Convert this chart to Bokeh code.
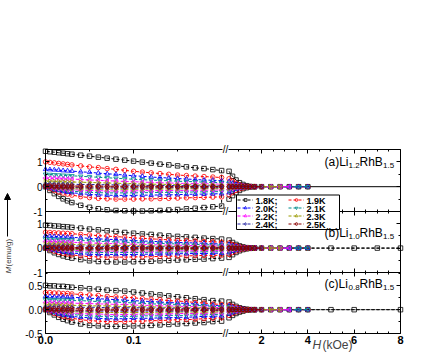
import math
from bokeh.plotting import figure
from bokeh.models import (Range1d, LinearAxis, FixedTicker, PrintfTickFormatter, BoxAnnotation,
                          CustomJSTickFormatter, Label, Legend, LegendItem, Arrow, NormalHead)
from bokeh.embed import file_html
from bokeh.resources import INLINE

# ---------------- data ----------------
TEMPS = ["1.8K", "1.9K", "2.0K", "2.1K", "2.2K", "2.3K", "2.4K", "2.5K"]
LEGEND_LABELS = ["1.8K;", "1.9K", "2.0K;", "2.1K", "2.2K;", "2.3K", "2.4K;", "2.5K"]

H_LEFT = [0.0, 0.005, 0.01, 0.015, 0.02, 0.025, 0.03, 0.04, 0.05, 0.06, 0.07, 0.08,
          0.09, 0.10, 0.11, 0.12, 0.13, 0.14, 0.15, 0.16, 0.17, 0.18, 0.19, 0.20]
H_RIGHT = [0.6, 0.75, 0.9, 1.05, 1.2, 1.35, 1.5, 1.7]
H_TAIL = [2.0, 2.4, 2.8, 3.2, 3.6, 4.0]
M_TAIL = [0.0, 0.0, 0.0, 0.0, 0.0, 0.0]
TAIL_POINTS = [6, 6, 6, 6, 4, 3, 1, 1]      # how many tail points each temperature has
H_EXT_A = [4.0, 8.0]
M_EXT_A = [0.0, 0.0]
H_EXT_B = [5.0, 6.0, 7.0, 8.0]
M_EXT_B = [0.0, 0.0, 0.0, 0.0]
H_EXT_C = [5.0, 6.0, 8.0]
M_EXT_C = [0.0, 0.0, 0.0]

# panel (a) Li1.2RhB1.5 : upper (field-decreasing) branch, low-field part
A_UP_18 = [1.43, 1.41, 1.39, 1.37, 1.35, 1.33, 1.31, 1.27, 1.23, 1.19, 1.15, 1.11, 1.07, 1.03, 0.99, 0.95, 0.91, 0.88, 0.84, 0.80, 0.76, 0.73, 0.69, 0.65]
A_UP_19 = [1.00, 0.98, 0.96, 0.94, 0.92, 0.90, 0.88, 0.84, 0.80, 0.77, 0.73, 0.70, 0.66, 0.62, 0.59, 0.56, 0.53, 0.50, 0.47, 0.45, 0.43, 0.41, 0.39, 0.37]
A_UP_20 = [0.70, 0.69, 0.68, 0.67, 0.65, 0.64, 0.63, 0.60, 0.58, 0.55, 0.52, 0.50, 0.47, 0.44, 0.42, 0.39, 0.37, 0.35, 0.33, 0.31, 0.29, 0.27, 0.26, 0.24]
A_UP_21 = [0.50, 0.49, 0.48, 0.47, 0.46, 0.45, 0.44, 0.42, 0.40, 0.38, 0.36, 0.34, 0.32, 0.30, 0.28, 0.27, 0.25, 0.24, 0.22, 0.21, 0.20, 0.18, 0.17, 0.16]
A_UP_22 = [0.35, 0.34, 0.34, 0.33, 0.32, 0.31, 0.31, 0.29, 0.27, 0.26, 0.24, 0.23, 0.21, 0.20, 0.19, 0.17, 0.16, 0.15, 0.14, 0.13, 0.12, 0.12, 0.11, 0.10]
A_UP_23 = [0.22, 0.22, 0.21, 0.21, 0.20, 0.20, 0.19, 0.18, 0.17, 0.16, 0.15, 0.14, 0.13, 0.12, 0.11, 0.10, 0.10, 0.09, 0.08, 0.08, 0.07, 0.07, 0.06, 0.06]
A_UP_24 = [0.12, 0.12, 0.11, 0.11, 0.11, 0.10, 0.10, 0.09, 0.09, 0.08, 0.08, 0.07, 0.07, 0.06, 0.06, 0.05, 0.05, 0.05, 0.04, 0.04, 0.04, 0.03, 0.03, 0.03]
A_UP_25 = [0.04, 0.04, 0.04, 0.04, 0.03, 0.03, 0.03, 0.03, 0.03, 0.03, 0.02, 0.02, 0.02, 0.02, 0.02, 0.02, 0.02, 0.01, 0.01, 0.01, 0.01, 0.01, 0.01, 0.01]
# lower (field-increasing) branch
A_LO_18 = [0.00, -0.15, -0.28, -0.39, -0.49, -0.57, -0.64, -0.75, -0.83, -0.89, -0.93, -0.96, -0.97, -0.98, -0.98, -0.97, -0.96, -0.94, -0.92, -0.89, -0.87, -0.84, -0.81, -0.78]
A_LO_19 = [0.00, -0.08, -0.15, -0.21, -0.26, -0.30, -0.34, -0.40, -0.44, -0.47, -0.49, -0.50, -0.50, -0.50, -0.49, -0.49, -0.48, -0.47, -0.46, -0.45, -0.44, -0.43, -0.42, -0.41]
A_LO_20 = [0.00, -0.06, -0.11, -0.15, -0.19, -0.22, -0.24, -0.28, -0.31, -0.33, -0.34, -0.35, -0.35, -0.35, -0.34, -0.34, -0.33, -0.33, -0.32, -0.31, -0.30, -0.30, -0.29, -0.28]
A_LO_21 = [0.00, -0.04, -0.08, -0.11, -0.14, -0.16, -0.18, -0.21, -0.23, -0.24, -0.25, -0.25, -0.25, -0.25, -0.24, -0.24, -0.23, -0.23, -0.22, -0.22, -0.21, -0.21, -0.20, -0.20]
A_LO_22 = [0.00, -0.03, -0.06, -0.08, -0.10, -0.11, -0.12, -0.14, -0.15, -0.16, -0.17, -0.17, -0.17, -0.17, -0.16, -0.16, -0.16, -0.15, -0.15, -0.15, -0.14, -0.14, -0.14, -0.13]
A_LO_23 = [0.00, -0.02, -0.04, -0.05, -0.06, -0.07, -0.08, -0.09, -0.09, -0.10, -0.10, -0.10, -0.10, -0.10, -0.10, -0.09, -0.09, -0.09, -0.09, -0.08, -0.08, -0.08, -0.08, -0.08]
A_LO_24 = [0.00, -0.01, -0.02, -0.03, -0.03, -0.04, -0.04, -0.04, -0.05, -0.05, -0.05, -0.05, -0.05, -0.05, -0.05, -0.05, -0.04, -0.04, -0.04, -0.04, -0.04, -0.04, -0.04, -0.04]
A_LO_25 = [0.00, 0.00, -0.01, -0.01, -0.01, -0.01, -0.01, -0.01, -0.01, -0.01, -0.01, -0.01, -0.01, -0.01, -0.01, -0.01, -0.01, -0.01, -0.01, -0.01, -0.01, -0.01, -0.01, -0.01]
# high-field part (H_RIGHT)
A_UPR_18 = [0.62, 0.42, 0.27, 0.16, 0.09, 0.04, 0.01, 0.0]
A_UPR_19 = [0.32, 0.22, 0.14, 0.08, 0.04, 0.02, 0.01, 0.0]
A_UPR_20 = [0.21, 0.14, 0.09, 0.05, 0.03, 0.01, 0.0, 0.0]
A_UPR_21 = [0.14, 0.09, 0.06, 0.03, 0.02, 0.01, 0.0, 0.0]
A_UPR_22 = [0.09, 0.06, 0.04, 0.02, 0.01, 0.0, 0.0, 0.0]
A_UPR_23 = [0.05, 0.03, 0.02, 0.01, 0.0, 0.0, 0.0, 0.0]
A_UPR_24 = [0.03, 0.02, 0.01, 0.0, 0.0, 0.0, 0.0, 0.0]
A_UPR_25 = [0.01, 0.0, 0.0, 0.0, 0.0, 0.0, 0.0, 0.0]
A_LOR_18 = [-0.50, -0.36, -0.24, -0.15, -0.08, -0.04, -0.01, 0.0]
A_LOR_19 = [-0.33, -0.23, -0.15, -0.09, -0.05, -0.02, -0.01, 0.0]
A_LOR_20 = [-0.24, -0.16, -0.10, -0.06, -0.03, -0.01, 0.0, 0.0]
A_LOR_21 = [-0.17, -0.11, -0.07, -0.04, -0.02, -0.01, 0.0, 0.0]
A_LOR_22 = [-0.11, -0.07, -0.05, -0.03, -0.01, 0.0, 0.0, 0.0]
A_LOR_23 = [-0.07, -0.04, -0.03, -0.01, 0.0, 0.0, 0.0, 0.0]
A_LOR_24 = [-0.03, -0.02, -0.01, 0.0, 0.0, 0.0, 0.0, 0.0]
A_LOR_25 = [-0.01, 0.0, 0.0, 0.0, 0.0, 0.0, 0.0, 0.0]

# panel (b) Li1.0RhB1.5
B_UP_18 = [0.94, 0.93, 0.91, 0.90, 0.88, 0.87, 0.85, 0.82, 0.78, 0.75, 0.71, 0.68, 0.64, 0.61, 0.58, 0.56, 0.53, 0.50, 0.48, 0.46, 0.44, 0.41, 0.39, 0.37]
B_UP_19 = [0.65, 0.64, 0.63, 0.62, 0.61, 0.60, 0.59, 0.56, 0.54, 0.51, 0.49, 0.47, 0.45, 0.42, 0.40, 0.38, 0.36, 0.34, 0.32, 0.31, 0.29, 0.27, 0.26, 0.24]
B_UP_20 = [0.50, 0.49, 0.48, 0.47, 0.46, 0.45, 0.44, 0.42, 0.40, 0.38, 0.36, 0.35, 0.33, 0.31, 0.29, 0.28, 0.26, 0.25, 0.23, 0.22, 0.21, 0.20, 0.18, 0.17]
B_UP_21 = [0.37, 0.36, 0.36, 0.35, 0.34, 0.33, 0.33, 0.31, 0.30, 0.28, 0.27, 0.25, 0.24, 0.23, 0.21, 0.20, 0.19, 0.18, 0.17, 0.16, 0.15, 0.14, 0.13, 0.12]
B_UP_22 = [0.27, 0.27, 0.26, 0.26, 0.25, 0.24, 0.24, 0.22, 0.21, 0.20, 0.19, 0.18, 0.17, 0.16, 0.15, 0.14, 0.13, 0.12, 0.12, 0.11, 0.10, 0.10, 0.09, 0.08]
B_UP_23 = [0.17, 0.17, 0.16, 0.16, 0.16, 0.15, 0.15, 0.14, 0.13, 0.13, 0.12, 0.11, 0.11, 0.10, 0.09, 0.09, 0.08, 0.08, 0.07, 0.07, 0.06, 0.06, 0.05, 0.05]
B_UP_24 = [0.10, 0.10, 0.10, 0.09, 0.09, 0.09, 0.09, 0.08, 0.08, 0.07, 0.07, 0.07, 0.06, 0.06, 0.06, 0.05, 0.05, 0.05, 0.04, 0.04, 0.04, 0.04, 0.03, 0.03]
B_UP_25 = [0.03, 0.03, 0.03, 0.03, 0.03, 0.03, 0.03, 0.02, 0.02, 0.02, 0.02, 0.02, 0.02, 0.02, 0.02, 0.02, 0.01, 0.01, 0.01, 0.01, 0.01, 0.01, 0.01, 0.01]
B_LO_18 = [0.00, -0.10, -0.19, -0.26, -0.32, -0.37, -0.41, -0.47, -0.52, -0.55, -0.56, -0.57, -0.57, -0.56, -0.55, -0.54, -0.52, -0.51, -0.49, -0.48, -0.46, -0.45, -0.43, -0.41]
B_LO_19 = [0.00, -0.07, -0.13, -0.18, -0.22, -0.25, -0.28, -0.32, -0.35, -0.36, -0.37, -0.37, -0.37, -0.36, -0.36, -0.35, -0.34, -0.33, -0.33, -0.32, -0.31, -0.30, -0.30, -0.29]
B_LO_20 = [0.00, -0.05, -0.09, -0.13, -0.16, -0.18, -0.20, -0.23, -0.25, -0.26, -0.26, -0.26, -0.26, -0.26, -0.25, -0.25, -0.24, -0.24, -0.23, -0.23, -0.22, -0.22, -0.21, -0.21]
B_LO_21 = [0.00, -0.04, -0.07, -0.09, -0.11, -0.13, -0.14, -0.16, -0.17, -0.18, -0.18, -0.18, -0.18, -0.18, -0.18, -0.17, -0.17, -0.17, -0.16, -0.16, -0.16, -0.15, -0.15, -0.15]
B_LO_22 = [0.00, -0.03, -0.05, -0.06, -0.08, -0.09, -0.09, -0.10, -0.11, -0.12, -0.12, -0.12, -0.12, -0.12, -0.12, -0.12, -0.11, -0.11, -0.11, -0.11, -0.11, -0.10, -0.10, -0.10]
B_LO_23 = [0.00, -0.02, -0.03, -0.04, -0.05, -0.05, -0.06, -0.06, -0.07, -0.07, -0.07, -0.07, -0.07, -0.07, -0.07, -0.07, -0.07, -0.07, -0.06, -0.06, -0.06, -0.06, -0.06, -0.06]
B_LO_24 = [0.00, -0.01, -0.02, -0.02, -0.03, -0.03, -0.03, -0.03, -0.04, -0.04, -0.04, -0.04, -0.04, -0.04, -0.04, -0.04, -0.04, -0.03, -0.03, -0.03, -0.03, -0.03, -0.03, -0.03]
B_LO_25 = [0.00, 0.00, -0.01, -0.01, -0.01, -0.01, -0.01, -0.01, -0.01, -0.01, -0.01, -0.01, -0.01, -0.01, -0.01, -0.01, -0.01, -0.01, -0.01, -0.01, -0.01, -0.01, -0.01, -0.01]
B_UPR_18 = [0.33, 0.23, 0.15, 0.09, 0.05, 0.02, 0.01, 0.0]
B_UPR_19 = [0.21, 0.15, 0.10, 0.06, 0.03, 0.01, 0.0, 0.0]
B_UPR_20 = [0.15, 0.10, 0.07, 0.04, 0.02, 0.01, 0.0, 0.0]
B_UPR_21 = [0.10, 0.07, 0.05, 0.03, 0.01, 0.0, 0.0, 0.0]
B_UPR_22 = [0.07, 0.05, 0.03, 0.02, 0.01, 0.0, 0.0, 0.0]
B_UPR_23 = [0.04, 0.03, 0.02, 0.01, 0.0, 0.0, 0.0, 0.0]
B_UPR_24 = [0.02, 0.01, 0.01, 0.0, 0.0, 0.0, 0.0, 0.0]
B_UPR_25 = [0.01, 0.0, 0.0, 0.0, 0.0, 0.0, 0.0, 0.0]
B_LOR_18 = [-0.38, -0.27, -0.18, -0.11, -0.06, -0.03, -0.01, 0.0]
B_LOR_19 = [-0.26, -0.18, -0.12, -0.07, -0.04, -0.02, 0.0, 0.0]
B_LOR_20 = [-0.18, -0.13, -0.08, -0.05, -0.03, -0.01, 0.0, 0.0]
B_LOR_21 = [-0.13, -0.09, -0.06, -0.03, -0.02, -0.01, 0.0, 0.0]
B_LOR_22 = [-0.09, -0.06, -0.04, -0.02, -0.01, 0.0, 0.0, 0.0]
B_LOR_23 = [-0.05, -0.03, -0.02, -0.01, 0.0, 0.0, 0.0, 0.0]
B_LOR_24 = [-0.03, -0.02, -0.01, 0.0, 0.0, 0.0, 0.0, 0.0]
B_LOR_25 = [-0.01, 0.0, 0.0, 0.0, 0.0, 0.0, 0.0, 0.0]

# panel (c) Li0.8RhB1.5
C_UP_18 = [0.51, 0.50, 0.50, 0.49, 0.49, 0.48, 0.47, 0.46, 0.44, 0.43, 0.41, 0.40, 0.39, 0.37, 0.35, 0.33, 0.31, 0.29, 0.27, 0.25, 0.23, 0.21, 0.19, 0.18]
C_UP_19 = [0.36, 0.36, 0.35, 0.35, 0.34, 0.34, 0.33, 0.32, 0.31, 0.30, 0.28, 0.27, 0.26, 0.25, 0.23, 0.22, 0.21, 0.19, 0.18, 0.17, 0.15, 0.14, 0.12, 0.11]
C_UP_20 = [0.28, 0.28, 0.27, 0.27, 0.27, 0.26, 0.26, 0.25, 0.24, 0.23, 0.22, 0.21, 0.20, 0.19, 0.18, 0.17, 0.16, 0.15, 0.14, 0.13, 0.12, 0.10, 0.09, 0.08]
C_UP_21 = [0.21, 0.21, 0.21, 0.20, 0.20, 0.20, 0.19, 0.19, 0.18, 0.17, 0.16, 0.16, 0.15, 0.14, 0.13, 0.12, 0.12, 0.11, 0.10, 0.09, 0.09, 0.08, 0.07, 0.06]
C_UP_22 = [0.15, 0.15, 0.15, 0.14, 0.14, 0.14, 0.14, 0.13, 0.13, 0.12, 0.12, 0.11, 0.11, 0.10, 0.09, 0.09, 0.08, 0.08, 0.07, 0.07, 0.06, 0.05, 0.05, 0.04]
C_UP_23 = [0.10, 0.10, 0.10, 0.10, 0.09, 0.09, 0.09, 0.09, 0.08, 0.08, 0.08, 0.07, 0.07, 0.06, 0.06, 0.06, 0.05, 0.05, 0.05, 0.04, 0.04, 0.04, 0.03, 0.03]
C_UP_24 = [0.06, 0.06, 0.06, 0.06, 0.05, 0.05, 0.05, 0.05, 0.05, 0.05, 0.04, 0.04, 0.04, 0.04, 0.04, 0.03, 0.03, 0.03, 0.03, 0.03, 0.02, 0.02, 0.02, 0.02]
C_UP_25 = [0.02, 0.02, 0.02, 0.02, 0.02, 0.02, 0.02, 0.02, 0.02, 0.01, 0.01, 0.01, 0.01, 0.01, 0.01, 0.01, 0.01, 0.01, 0.01, 0.01, 0.01, 0.01, 0.01, 0.01]
C_LO_18 = [0.00, -0.06, -0.11, -0.16, -0.20, -0.23, -0.26, -0.30, -0.33, -0.34, -0.35, -0.35, -0.35, -0.34, -0.34, -0.33, -0.32, -0.31, -0.30, -0.29, -0.28, -0.27, -0.25, -0.24]
C_LO_19 = [0.00, -0.04, -0.08, -0.11, -0.14, -0.16, -0.18, -0.21, -0.23, -0.24, -0.25, -0.25, -0.25, -0.24, -0.24, -0.23, -0.23, -0.22, -0.21, -0.21, -0.20, -0.19, -0.18, -0.17]
C_LO_20 = [0.00, -0.03, -0.06, -0.09, -0.11, -0.12, -0.14, -0.16, -0.17, -0.18, -0.19, -0.19, -0.19, -0.18, -0.18, -0.18, -0.17, -0.17, -0.16, -0.16, -0.15, -0.14, -0.14, -0.13]
C_LO_21 = [0.00, -0.03, -0.05, -0.07, -0.08, -0.09, -0.10, -0.12, -0.13, -0.14, -0.14, -0.14, -0.14, -0.14, -0.13, -0.13, -0.13, -0.12, -0.12, -0.12, -0.11, -0.11, -0.10, -0.10]
C_LO_22 = [0.00, -0.02, -0.03, -0.05, -0.06, -0.06, -0.07, -0.08, -0.09, -0.09, -0.10, -0.10, -0.10, -0.10, -0.09, -0.09, -0.09, -0.09, -0.08, -0.08, -0.08, -0.08, -0.07, -0.07]
C_LO_23 = [0.00, -0.01, -0.02, -0.03, -0.03, -0.04, -0.04, -0.05, -0.05, -0.06, -0.06, -0.06, -0.06, -0.06, -0.06, -0.06, -0.05, -0.05, -0.05, -0.05, -0.05, -0.05, -0.05, -0.04]
C_LO_24 = [0.00, -0.01, -0.01, -0.02, -0.02, -0.02, -0.02, -0.03, -0.03, -0.03, -0.03, -0.03, -0.03, -0.03, -0.03, -0.03, -0.03, -0.03, -0.03, -0.03, -0.02, -0.02, -0.02, -0.02]
C_LO_25 = [0.00, 0.00, -0.01, -0.01, -0.01, -0.01, -0.01, -0.01, -0.01, -0.01, -0.01, -0.01, -0.01, -0.01, -0.01, -0.01, -0.01, -0.01, -0.01, -0.01, -0.01, -0.01, -0.01, -0.01]
C_UPR_18 = [0.16, 0.11, 0.07, 0.04, 0.02, 0.01, 0.0, 0.0]
C_UPR_19 = [0.10, 0.07, 0.05, 0.03, 0.01, 0.0, 0.0, 0.0]
C_UPR_20 = [0.08, 0.05, 0.03, 0.02, 0.01, 0.0, 0.0, 0.0]
C_UPR_21 = [0.06, 0.04, 0.03, 0.01, 0.01, 0.0, 0.0, 0.0]
C_UPR_22 = [0.04, 0.03, 0.02, 0.01, 0.0, 0.0, 0.0, 0.0]
C_UPR_23 = [0.03, 0.02, 0.01, 0.0, 0.0, 0.0, 0.0, 0.0]
C_UPR_24 = [0.02, 0.01, 0.0, 0.0, 0.0, 0.0, 0.0, 0.0]
C_UPR_25 = [0.01, 0.0, 0.0, 0.0, 0.0, 0.0, 0.0, 0.0]
C_LOR_18 = [-0.17, -0.12, -0.08, -0.05, -0.03, -0.01, 0.0, 0.0]
C_LOR_19 = [-0.12, -0.08, -0.05, -0.03, -0.02, -0.01, 0.0, 0.0]
C_LOR_20 = [-0.09, -0.06, -0.04, -0.02, -0.01, 0.0, 0.0, 0.0]
C_LOR_21 = [-0.07, -0.05, -0.03, -0.02, -0.01, 0.0, 0.0, 0.0]
C_LOR_22 = [-0.05, -0.03, -0.02, -0.01, 0.0, 0.0, 0.0, 0.0]
C_LOR_23 = [-0.03, -0.02, -0.01, 0.0, 0.0, 0.0, 0.0, 0.0]
C_LOR_24 = [-0.02, -0.01, 0.0, 0.0, 0.0, 0.0, 0.0, 0.0]
C_LOR_25 = [-0.01, 0.0, 0.0, 0.0, 0.0, 0.0, 0.0, 0.0]

Y_TICKS_AB = [-1, 0, 1]
Y_MINOR_AB = [-0.5, 0.5, 1.5]
Y_TICKS_C = [-0.5, 0.0, 0.5]
Y_MINOR_C = [-0.25, 0.25, 0.75]
X_TICKS_LEFT = [0.0, 0.1]
X_MINOR_LEFT = [0.05, 0.15]
X_TICKS_RIGHT = [2, 4, 6, 8]
X_MINOR_RIGHT = [1, 1.5, 2.5, 3, 3.5, 4.5, 5, 5.5, 6.5, 7, 7.5]

# ---------------- style / geometry ----------------
COLORS = ["#000000", "#FF0000", "#0000FF", "#008B8B", "#FF00FF", "#999900", "#2020A0", "#8B0000"]
MARKERS = ["square", "circle", "triangle", "inverted_triangle", "triangle", "triangle", "diamond", "hex"]
ANGLES = [0, 0, 0, 0, math.pi / 2, -math.pi / 2, 0, 0]
FONT = "Liberation Sans"

W, H = 438, 353
LX = (45, 222)          # pixel span of the low-field segment
RX = (228, 400)         # pixel span of the high-field segment
XL = (0.0, 0.201)
XR = (0.576, 8.0)
PANEL_PX = {"a": (149, 211), "b": (211, 272), "c": (272, 333)}

panels = [
    dict(key="a", ylim=(-1.0, 1.5), ticks=Y_TICKS_AB, minor=Y_MINOR_AB, fmt="%d",
         up=[A_UP_18, A_UP_19, A_UP_20, A_UP_21, A_UP_22, A_UP_23, A_UP_24, A_UP_25],
         lo=[A_LO_18, A_LO_19, A_LO_20, A_LO_21, A_LO_22, A_LO_23, A_LO_24, A_LO_25],
         upr=[A_UPR_18, A_UPR_19, A_UPR_20, A_UPR_21, A_UPR_22, A_UPR_23, A_UPR_24, A_UPR_25],
         lor=[A_LOR_18, A_LOR_19, A_LOR_20, A_LOR_21, A_LOR_22, A_LOR_23, A_LOR_24, A_LOR_25],
         ext=(H_EXT_A, M_EXT_A), ext_markers=False, name=("(a)Li", "1.2"), label_y=161),
    dict(key="b", ylim=(-1.0, 1.5), ticks=Y_TICKS_AB, minor=Y_MINOR_AB, fmt="%d",
         up=[B_UP_18, B_UP_19, B_UP_20, B_UP_21, B_UP_22, B_UP_23, B_UP_24, B_UP_25],
         lo=[B_LO_18, B_LO_19, B_LO_20, B_LO_21, B_LO_22, B_LO_23, B_LO_24, B_LO_25],
         upr=[B_UPR_18, B_UPR_19, B_UPR_20, B_UPR_21, B_UPR_22, B_UPR_23, B_UPR_24, B_UPR_25],
         lor=[B_LOR_18, B_LOR_19, B_LOR_20, B_LOR_21, B_LOR_22, B_LOR_23, B_LOR_24, B_LOR_25],
         ext=(H_EXT_B, M_EXT_B), ext_markers=True, name=("(b)Li", "1.0"), label_y=232),
    dict(key="c", ylim=(-0.5, 0.78), ticks=Y_TICKS_C, minor=Y_MINOR_C, fmt="%.1f",
         up=[C_UP_18, C_UP_19, C_UP_20, C_UP_21, C_UP_22, C_UP_23, C_UP_24, C_UP_25],
         lo=[C_LO_18, C_LO_19, C_LO_20, C_LO_21, C_LO_22, C_LO_23, C_LO_24, C_LO_25],
         upr=[C_UPR_18, C_UPR_19, C_UPR_20, C_UPR_21, C_UPR_22, C_UPR_23, C_UPR_24, C_UPR_25],
         lor=[C_LOR_18, C_LOR_19, C_LOR_20, C_LOR_21, C_LOR_22, C_LOR_23, C_LOR_24, C_LOR_25],
         ext=(H_EXT_C, M_EXT_C), ext_markers=True, name=("(c)Li", "0.8"), label_y=283),
]


def x_range_for(vmin, vmax, p0, p1):
    s = (p1 - p0) / (vmax - vmin)
    return Range1d(start=vmin - p0 / s, end=vmax + (W - p1) / s)


def y_range_for(vmin, vmax, ptop, pbot):
    s = (pbot - ptop) / (vmax - vmin)
    return Range1d(start=vmin - (H - pbot) / s, end=vmax + ptop / s)


def py(page_y):
    return H - page_y


EMPTY = CustomJSTickFormatter(code="return ''")


def style_axis(ax, tick_in=4, tick_out=0, minor_in=2, minor_out=0):
    ax.axis_line_color = "black"
    ax.axis_line_width = 1
    ax.major_tick_line_color = "black"
    ax.minor_tick_line_color = "black"
    ax.major_tick_in = tick_in
    ax.major_tick_out = tick_out
    ax.minor_tick_in = minor_in
    ax.minor_tick_out = minor_out
    ax.major_label_text_font = FONT
    ax.major_label_text_color = "black"


p = figure(width=W, height=H, x_range=Range1d(0, W), y_range=Range1d(0, H),
           x_axis_type=None, y_axis_type=None, output_backend="svg", toolbar_location=None,
           min_border=0)
p.outline_line_color = None
p.background_fill_color = "white"
p.border_fill_color = "white"
p.extra_x_ranges = {"L": x_range_for(XL[0], XL[1], *LX), "R": x_range_for(XR[0], XR[1], *RX)}
for pn in panels:
    p.extra_y_ranges[pn["key"]] = y_range_for(pn["ylim"][0], pn["ylim"][1], *PANEL_PX[pn["key"]])

# horizontal axes (top, panel boundaries, bottom) for both field segments
for seg, bounds, ticks, minor, fmt in (("L", XL, X_TICKS_LEFT, X_MINOR_LEFT, PrintfTickFormatter(format="%.1f")),
                                       ("R", XR, X_TICKS_RIGHT, X_MINOR_RIGHT, PrintfTickFormatter(format="%d"))):
    top = LinearAxis(x_range_name=seg, bounds=bounds, fixed_location=py(149),
                     ticker=FixedTicker(ticks=ticks, minor_ticks=minor), formatter=EMPTY)
    style_axis(top)
    p.add_layout(top, "above")
    for yb in (211, 272):
        mid = LinearAxis(x_range_name=seg, bounds=bounds, fixed_location=py(yb),
                         ticker=FixedTicker(ticks=ticks, minor_ticks=minor), formatter=EMPTY)
        style_axis(mid, tick_in=4, tick_out=4, minor_in=2, minor_out=2)
        p.add_layout(mid, "below")
    bot = LinearAxis(x_range_name=seg, bounds=bounds, fixed_location=py(333),
                     ticker=FixedTicker(ticks=ticks, minor_ticks=minor), formatter=fmt)
    style_axis(bot)
    bot.major_label_text_font_size = "11px"
    bot.major_label_text_font_style = "bold"
    bot.major_label_standoff = 2
    p.add_layout(bot, "below")

# vertical axes per panel
for pn in panels:
    yl = LinearAxis(y_range_name=pn["key"], fixed_location=LX[0], bounds=pn["ylim"],
                    ticker=FixedTicker(ticks=pn["ticks"], minor_ticks=pn["minor"]),
                    formatter=PrintfTickFormatter(format=pn["fmt"]))
    style_axis(yl)
    yl.major_label_text_font_size = "10px"
    yl.major_label_standoff = 3
    p.add_layout(yl, "left")
    yr = LinearAxis(y_range_name=pn["key"], fixed_location=RX[1], bounds=pn["ylim"],
                    ticker=FixedTicker(ticks=pn["ticks"], minor_ticks=pn["minor"]), formatter=EMPTY)
    style_axis(yr)
    p.add_layout(yr, "right")

# data
legend_items = []
for pn in panels:
    k = pn["key"]
    for i in range(len(TEMPS)):
        kw = dict(line_color=COLORS[i], y_range_name=k)
        mk = dict(marker=MARKERS[i], angle=ANGLES[i], size=4.5, fill_color=None, line_width=0.8)
        xl = H_LEFT + H_LEFT[::-1]
        yl_ = pn["lo"][i] + pn["up"][i][::-1]
        p.line(xl, yl_, x_range_name="L", line_dash="3 2", line_width=1, **kw)
        p.scatter(xl, yl_, x_range_name="L", **mk, **kw)
        n = TAIL_POINTS[i]
        tail_h = H_TAIL[:n]
        tail_m = M_TAIL[:n]
        if i == 0 and pn["ext_markers"]:
            tail_h = tail_h + pn["ext"][0]
            tail_m = tail_m + pn["ext"][1]
        xr_ = H_RIGHT + tail_h + H_RIGHT[::-1]
        yr_ = pn["lor"][i] + tail_m + pn["upr"][i][::-1]
        lr = p.line(xr_, yr_, x_range_name="R", line_dash="3 2", line_width=1, **kw)
        sr = p.scatter(xr_, yr_, x_range_name="R", **mk, **kw)
        if i == 0 and not pn["ext_markers"]:
            p.line(pn["ext"][0], pn["ext"][1], x_range_name="R", line_width=1, **kw)
        if k == "a":
            legend_items.append(LegendItem(label="", renderers=[lr, sr]))

# legend: white framed box, texts as labels, glyphs from a transparent Bokeh Legend on top
BOX_TOP, BOX_BOTTOM, LEG_X = 194.5, 229, 236
LEG_BOTTOM, LEG_PAD, ROW_H, GLYPH_W, COL_W = 228, 1, 7, 16, 50
leg_h = 2 * LEG_PAD + 4 * ROW_H + 3
leg_w = 2 * LEG_PAD + 2 * COL_W + 1
leg_top = LEG_BOTTOM - leg_h
p.add_layout(BoxAnnotation(left=LEG_X, right=LEG_X + leg_w, bottom=py(BOX_BOTTOM), top=py(BOX_TOP),
                           fill_color="white", fill_alpha=1.0, line_color="black", line_width=1,
                           line_alpha=1.0))
for i, txt in enumerate(LEGEND_LABELS):
    r, c = divmod(i, 2)
    p.add_layout(Label(x=LEG_X + LEG_PAD + c * (COL_W + 1) + GLYPH_W + 2,
                       y=py(leg_top + LEG_PAD + r * (ROW_H + 1) + ROW_H / 2 + 0.5),
                       text=txt, text_font=FONT, text_font_size="9px", text_font_style="bold",
                       text_align="left", text_baseline="middle", text_color="black"))
legend = Legend(items=legend_items, location=(LEG_X, py(LEG_BOTTOM)), orientation="horizontal", ncols=2,
                label_text_font_size="1px", glyph_width=GLYPH_W, glyph_height=ROW_H, label_height=ROW_H,
                label_width=COL_W - GLYPH_W - 2, label_standoff=2, spacing=1, padding=LEG_PAD, margin=0,
                border_line_alpha=0, background_fill_alpha=0)
p.add_layout(legend)

# panel titles with subscripts
for pn in panels:
    y0 = py(pn["label_y"])
    y1 = py(pn["label_y"] + 4)
    pieces = [(pn["name"][0], 324, "12px", y0), (pn["name"][1], 348, "8px", y1),
              ("RhB", 359, "12px", y0), ("1.5", 382.5, "8px", y1)]
    for txt, px, fs, yy in pieces:
        p.add_layout(Label(x=px, y=yy, text=txt, text_font=FONT, text_font_size=fs,
                           text_align="left", text_baseline="middle", text_color="black"))

# axis-break marks
for yb in (149, 211, 272, 333):
    p.add_layout(Label(x=225, y=py(yb), text="//", text_font=FONT, text_font_size="10px",
                       text_align="center", text_baseline="middle", text_color="black"))

# x-axis title
p.add_layout(Label(x=312, y=py(344.5), text="H", text_font=FONT, text_font_size="12px",
                   text_font_style="italic", text_align="left", text_baseline="middle"))
p.add_layout(Label(x=322, y=py(344.5), text="(kOe)", text_font=FONT, text_font_size="12px",
                   text_align="left", text_baseline="middle"))

# y-axis title with arrow
p.add_layout(Arrow(end=NormalHead(size=6, fill_color="black", line_color="black"),
                   x_start=7, y_start=py(236), x_end=7, y_end=py(193),
                   line_color="black", line_width=1))
p.add_layout(Label(x=8, y=py(273), text="M", text_font=FONT, text_font_size="8px",
                   text_font_style="italic", angle=math.pi / 2, text_align="left",
                   text_baseline="middle"))
p.add_layout(Label(x=8, y=py(266), text="(emu/g)", text_font=FONT, text_font_size="8px",
                   angle=math.pi / 2, text_align="left", text_baseline="middle"))

open("out.html", "w").write(file_html(p, INLINE))
